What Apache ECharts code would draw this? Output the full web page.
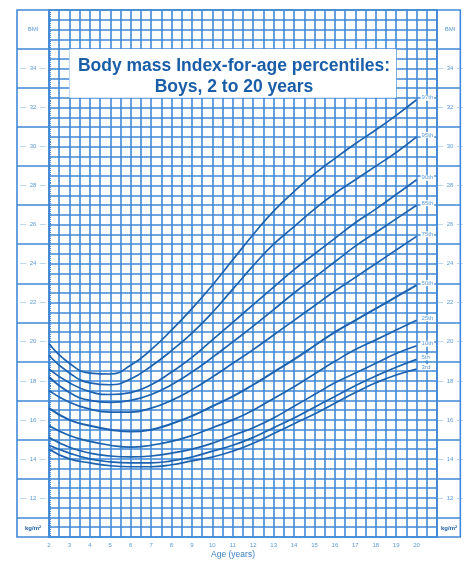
<!DOCTYPE html>
<html>
<head>
<meta charset="utf-8">
<script src="https://cdn.jsdelivr.net/npm/echarts@6/dist/echarts.min.js"></script>
<style>
html,body{margin:0;padding:0;background:#fff;}
#chart{width:464px;height:563px;}
</style>
</head>
<body>
<div id="chart"></div>
<script>
// ---- data ----
const ages = [2,3,4,5,6,7,8,9,10,11,12,13,14,15,16,17,18,19,20];
const p97 = [19.9,18.9,18.4,18.35,18.8,19.6,20.6,21.7,22.9,24.2,25.5,26.7,27.7,28.6,29.4,30.15,30.85,31.6,32.4];
const p95 = [19.3,18.4,17.9,17.8,18.1,18.75,19.55,20.45,21.5,22.7,23.9,25.0,25.9,26.8,27.6,28.3,29.0,29.7,30.5];
const p90 = [18.6,17.9,17.45,17.3,17.4,17.8,18.45,19.2,20.1,21.0,21.9,22.8,23.7,24.5,25.3,26.1,26.8,27.55,28.3];
const p85 = [18.2,17.4,17.0,16.9,17.0,17.3,17.8,18.45,19.2,20.0,20.8,21.65,22.5,23.3,24.1,24.9,25.6,26.3,27.0];
const p75 = [17.5,16.9,16.55,16.4,16.4,16.6,17.0,17.55,18.2,18.9,19.6,20.35,21.1,21.85,22.6,23.3,24.0,24.7,25.4];
const p50 = [16.6,16.0,15.7,15.5,15.4,15.5,15.8,16.2,16.7,17.2,17.8,18.45,19.1,19.8,20.5,21.1,21.7,22.3,22.9];
const p25 = [15.7,15.2,14.9,14.7,14.6,14.7,14.9,15.2,15.6,16.0,16.5,17.1,17.7,18.35,19.0,19.6,20.1,20.6,21.1];
const p10 = [15.1,14.6,14.3,14.15,14.1,14.15,14.3,14.5,14.8,15.2,15.6,16.1,16.7,17.3,17.9,18.4,18.9,19.4,19.8];
const p5  = [14.7,14.3,14.0,13.85,13.8,13.8,13.9,14.1,14.4,14.7,15.1,15.6,16.1,16.65,17.2,17.75,18.25,18.7,19.1];
const p3  = [14.5,14.0,13.8,13.65,13.6,13.6,13.7,13.9,14.1,14.4,14.8,15.3,15.8,16.3,16.85,17.4,17.9,18.3,18.6];
const curveLabels = ['97th','95th','90th','85th','75th','50th','25th','10th','5th','3rd'];
const curveValues = [p97,p95,p90,p85,p75,p50,p25,p10,p5,p3];
const xTickLabels = [2,3,4,5,6,7,8,9,10,11,12,13,14,15,16,17,18,19,20];
const yTickLabels = [12,14,16,18,20,22,24,26,28,30,32,34];
const titleLines = ['Body mass Index-for-age percentiles:','Boys, 2 to 20 years'];
const xTitle = 'Age (years)';
const unitTop = 'BMI';
const unitBottom = 'kg/m²';

// ---- styling ----
const GRID = '#4189d6';
const CURVE = '#1c62ae';
const TEXT = '#5b9bd8';
const TITLE = '#1b5ea8';
const Y_MIN = 10, Y_MAX = 37;

const chart = echarts.init(document.getElementById('chart'), null, {renderer:'canvas'});

const panelLines = [];
for (let v = 11; v < Y_MAX; v += 2) panelLines.push({yAxis: v});

function panelY(idx) {
  return {
    type:'value', gridIndex: idx, min: Y_MIN, max: Y_MAX, interval: 2,
    axisLine:{show:false}, axisTick:{show:false}, splitLine:{show:false},
    axisLabel:{
      inside:true, margin: idx === 1 ? 16 : 13, align:'center',
      fontSize:6, color:TEXT, fontFamily:'Liberation Sans',
      formatter: v => v === 36 ? unitTop : (yTickLabels.indexOf(v) >= 0 ? '—  ' + v + '  —' : '')
    }
  };
}
function panelX(idx) {
  return {type:'value', gridIndex: idx, min:0, max:1, show:false};
}
function panelSeries(idx) {
  return {
    type:'line', xAxisIndex: idx, yAxisIndex: idx, data: [], silent:true,
    markLine:{silent:true, symbol:'none', label:{show:false},
      lineStyle:{color:GRID, width:1.5, type:'solid'}, data: panelLines}
  };
}

const curveSeries = curveLabels.map((name, i) => ({
  type:'line', name, xAxisIndex:0, yAxisIndex:0, z:5,
  data: ages.map((a, j) => [a, curveValues[i][j]]),
  smooth: 0.5, showSymbol:false, symbol:'none',
  lineStyle:{color:CURVE, width: name === '50th' ? 2 : 1.7},
  endLabel:{show:true, formatter: name, fontSize:6, color:TEXT, distance:4,
    offset:[0,-2], backgroundColor:'#fff', padding:[0,1], fontFamily:'Liberation Sans'},
  markArea: i === 0 ? {silent:true, itemStyle:{color:'#fff', opacity:1},
    data:[[{coord:[3,35]},{coord:[19,32.5]}]]} : undefined
}));

const option = {
  animation:false,
  backgroundColor:'#fff',
  grid:[
    {left:49, right:27, top:10, bottom:26, show:true, borderColor:GRID, borderWidth:1.6, backgroundColor:'#fff'},
    {left:17, width:32, top:10, bottom:26, show:true, borderColor:GRID, borderWidth:1.6, backgroundColor:'#fff'},
    {left:437, width:25, top:10, bottom:26, show:true, borderColor:GRID, borderWidth:1.6, backgroundColor:'#fff'}
  ],
  xAxis:[
    {type:'value', gridIndex:0, min:2, max:21, interval:0.5,
      axisLine:{show:false},
      axisTick:{show:false},
      splitLine:{show:true, lineStyle:{color:GRID, width:1.6}},
      axisLabel:{fontSize:6, color:TEXT, margin:5, fontFamily:'Liberation Sans',
        formatter: v => xTickLabels.indexOf(v) >= 0 ? String(v) : ''}},
    panelX(1), panelX(2)
  ],
  yAxis:[
    {type:'value', gridIndex:0, min:Y_MIN, max:Y_MAX, interval:0.5,
      axisLine:{show:false}, axisLabel:{show:false},
      axisTick:{show:true, inside:true, length:2, lineStyle:{color:GRID}},
      minorTick:{show:true, splitNumber:5, length:2, lineStyle:{color:GRID}},
      splitLine:{show:true, lineStyle:{color:GRID, width:1.6}}},
    panelY(1), panelY(2)
  ],
  series: curveSeries.concat([panelSeries(1), panelSeries(2)]),
  graphic:[
    {type:'text', x:234, y:66, z:100, style:{text:titleLines[0], fill:TITLE,
      font:'bold 17.5px "Liberation Sans", Arial, sans-serif', textAlign:'center', textVerticalAlign:'middle'}},
    {type:'text', x:234, y:87, z:100, style:{text:titleLines[1], fill:TITLE,
      font:'bold 17.5px "Liberation Sans", Arial, sans-serif', textAlign:'center', textVerticalAlign:'middle'}},
    {type:'text', x:33, y:528, z:100, style:{text:unitBottom, fill:TITLE,
      font:'bold 6px "Liberation Sans", Arial, sans-serif', textAlign:'center', textVerticalAlign:'middle'}},
    {type:'text', x:449, y:528, z:100, style:{text:unitBottom, fill:TITLE,
      font:'bold 6px "Liberation Sans", Arial, sans-serif', textAlign:'center', textVerticalAlign:'middle'}},
    {type:'text', x:233, y:555, z:100, style:{text:xTitle, fill:'#3b7fc6',
      font:'8.5px "Liberation Sans", Arial, sans-serif', textAlign:'center', textVerticalAlign:'middle'}}
  ]
};
chart.setOption(option);
</script>
</body>
</html>
